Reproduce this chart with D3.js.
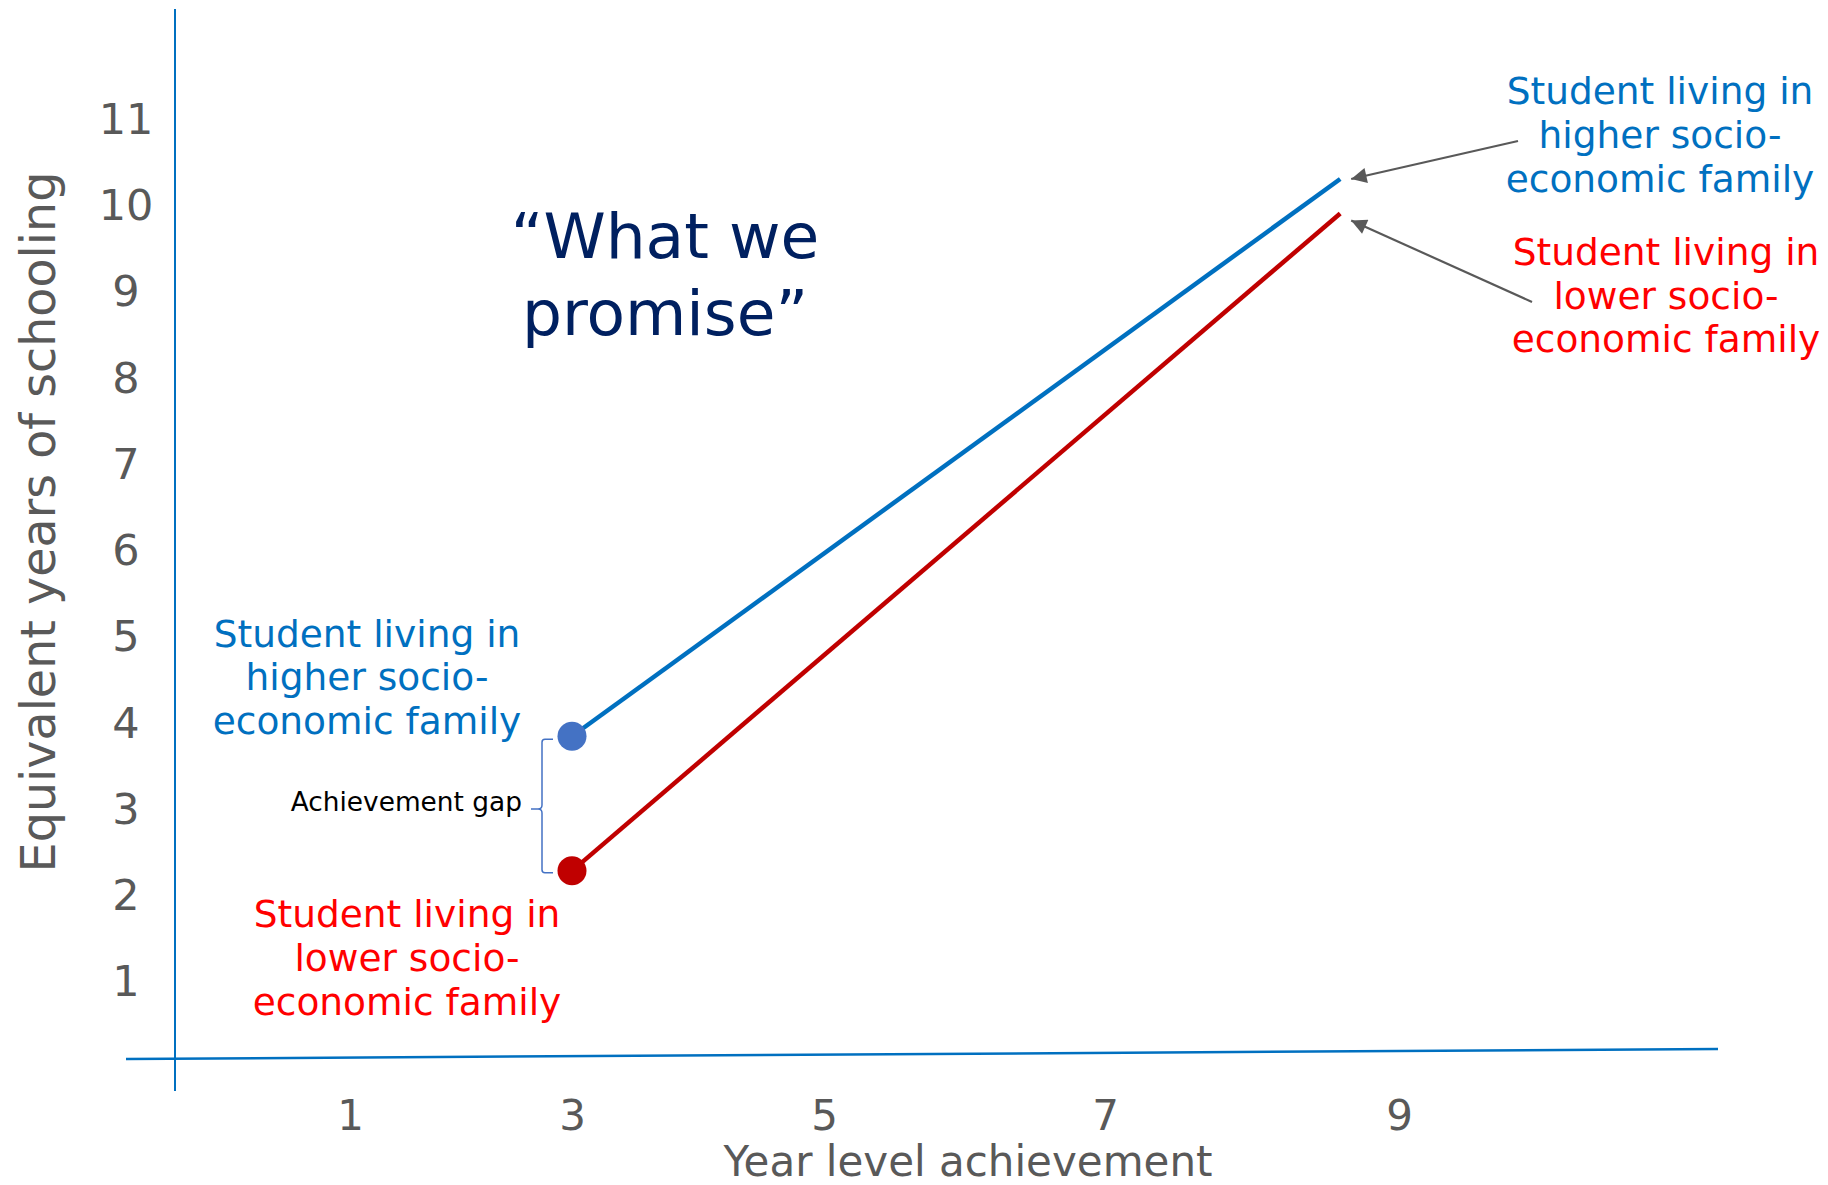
<!DOCTYPE html>
<html>
<head>
<meta charset="utf-8">
<script src="https://cdn.jsdelivr.net/npm/d3@7"></script>
<style>
  body { margin: 0; background: #fff; }
  svg { display: block; font-family: "DejaVu Sans", Verdana, sans-serif; }
</style>
</head>
<body>
<svg id="chart"></svg>
<script>
// data
const yearTicks = [1, 3, 5, 7, 9];
const schoolTicks = [1, 2, 3, 4, 5, 6, 7, 8, 9, 10, 11];
const seriesNames = ["higher", "lower"];
const yearLevel = [3, 8.6];                // start / end of both lines
const higherYears = [3.83, 10.29];
const lowerYears = [2.27, 9.89];
const higherLabel = ["Student living in", "higher socio-", "economic family"];
const lowerLabel = ["Student living in", "lower socio-", "economic family"];
const titleLines = ["\u201cWhat we", "promise\u201d"];

const width = 1828;
const height = 1185;
const blue = "#0070C0";
const red = "#C00000";
const grey = "#595959";

const svg = d3.select("#chart")
    .attr("width", width)
    .attr("height", height);

// x tick spacing in the slide is uneven, so a polylinear scale
const x = d3.scaleLinear().domain(yearTicks).range([350, 572, 824, 1105, 1399]);
const y = d3.scaleLinear().domain([0, 11]).range([1066.7, 117.7]);

const series = [
    { name: seriesNames[0], line: blue, dot: "#4472C4", values: higherYears },
    { name: seriesNames[1], line: red, dot: red, values: lowerYears }
];

// axis lines (the x one is slightly tilted in the original)
svg.append("line")
    .attr("x1", 175).attr("x2", 175)
    .attr("y1", 9).attr("y2", 1091)
    .attr("stroke", blue).attr("stroke-width", 2);
svg.append("line")
    .attr("x1", 126).attr("y1", 1059)
    .attr("x2", 1718).attr("y2", 1049)
    .attr("stroke", blue).attr("stroke-width", 2.5);

// y ticks (labels are centred in a column left of the axis)
const yAxis = svg.append("g")
    .attr("transform", "translate(126,0)")
    .call(d3.axisLeft(y).tickValues(schoolTicks).tickSize(0).tickPadding(0));
yAxis.select(".domain").remove();
yAxis.attr("font-size", 43).attr("font-family", null).attr("text-anchor", "middle");
yAxis.selectAll("text").attr("x", 0).attr("fill", grey).attr("dy", "0.36em");

// x ticks
const xAxis = svg.append("g")
    .attr("transform", "translate(0,1100)")
    .call(d3.axisBottom(x).tickValues(yearTicks).tickSize(0).tickPadding(0));
xAxis.select(".domain").remove();
xAxis.attr("font-size", 42).attr("font-family", null);
xAxis.selectAll("text").attr("fill", grey).attr("dy", "0.71em");

// axis titles
svg.append("text")
    .attr("transform", "translate(55,522) rotate(-90)")
    .attr("text-anchor", "middle")
    .attr("font-size", 47.6)
    .attr("fill", grey)
    .text("Equivalent years of schooling");
svg.append("text")
    .attr("x", 968).attr("y", 1176)
    .attr("text-anchor", "middle")
    .attr("font-size", 42)
    .attr("fill", grey)
    .text("Year level achievement");

// lines and start dots
const line = d3.line()
    .x((d, i) => x(yearLevel[i]))
    .y(d => y(d));

svg.selectAll(".series")
    .data(series)
    .enter()
    .append("path")
    .attr("class", "series")
    .attr("d", d => line(d.values))
    .attr("fill", "none")
    .attr("stroke", d => d.line)
    .attr("stroke-width", 4.5);

svg.selectAll(".dot")
    .data(series)
    .enter()
    .append("circle")
    .attr("class", "dot")
    .attr("cx", x(yearLevel[0]))
    .attr("cy", d => y(d.values[0]))
    .attr("r", 14.5)
    .attr("fill", d => d.dot);

// brace for the gap
const bx = x(yearLevel[0]) - 30;
const braceTop = y(higherYears[0]) + 3;
const braceBot = y(lowerYears[0]) + 2;
const braceMid = (braceTop + braceBot) / 2 + 3;
const brace = d3.path();
brace.moveTo(bx + 11, braceTop);
brace.lineTo(bx + 3, braceTop);
brace.quadraticCurveTo(bx, braceTop, bx, braceTop + 3);
brace.lineTo(bx, braceMid - 4);
brace.quadraticCurveTo(bx, braceMid, bx - 4, braceMid);
brace.lineTo(bx - 11, braceMid);
brace.moveTo(bx - 4, braceMid);
brace.quadraticCurveTo(bx, braceMid, bx, braceMid + 4);
brace.lineTo(bx, braceBot - 3);
brace.quadraticCurveTo(bx, braceBot, bx + 3, braceBot);
brace.lineTo(bx + 11, braceBot);
svg.append("path")
    .attr("d", brace.toString())
    .attr("fill", "none")
    .attr("stroke", "#4472C4")
    .attr("stroke-width", 1.5);

svg.append("text")
    .attr("x", 522).attr("y", 811)
    .attr("text-anchor", "end")
    .attr("font-size", 26.4)
    .attr("fill", "#000")
    .text("Achievement gap");

// arrows to the line ends
svg.append("defs").append("marker")
    .attr("id", "arrow")
    .attr("viewBox", "0 0 10 10")
    .attr("refX", 10).attr("refY", 5)
    .attr("markerWidth", 8).attr("markerHeight", 7)
    .attr("markerUnits", "strokeWidth")
    .attr("orient", "auto")
    .append("path")
    .attr("d", "M0,0L10,5L0,10z")
    .attr("fill", grey);

const arrows = [
    { from: [1518, 141], to: [x(yearLevel[1]) + 11, y(higherYears[1])] },
    { from: [1532, 302], to: [x(yearLevel[1]) + 11, y(lowerYears[1]) + 7] }
];
svg.selectAll(".arrow")
    .data(arrows)
    .enter()
    .append("line")
    .attr("class", "arrow")
    .attr("x1", d => d.from[0]).attr("y1", d => d.from[1])
    .attr("x2", d => d.to[0]).attr("y2", d => d.to[1])
    .attr("stroke", grey)
    .attr("stroke-width", 2.2)
    .attr("marker-end", "url(#arrow)");

// multi-line labels
function block(lines, cx, baseline, step, size, color) {
    svg.append("text")
        .attr("text-anchor", "middle")
        .attr("font-size", size)
        .attr("fill", color)
        .selectAll("tspan")
        .data(lines)
        .enter()
        .append("tspan")
        .attr("x", cx)
        .attr("y", (d, i) => baseline + i * step)
        .text(d => d);
}

block(titleLines, 665, 258, 77, 63, "#002060");
block(higherLabel, 367, 646.5, 43.7, 37.5, blue);
block(lowerLabel, 407, 926.5, 44, 37.5, "#FF0000");
block(higherLabel, 1660, 103.5, 44, 37.5, blue);
block(lowerLabel, 1666, 265, 43.5, 37.5, "#FF0000");
</script>
</body>
</html>
